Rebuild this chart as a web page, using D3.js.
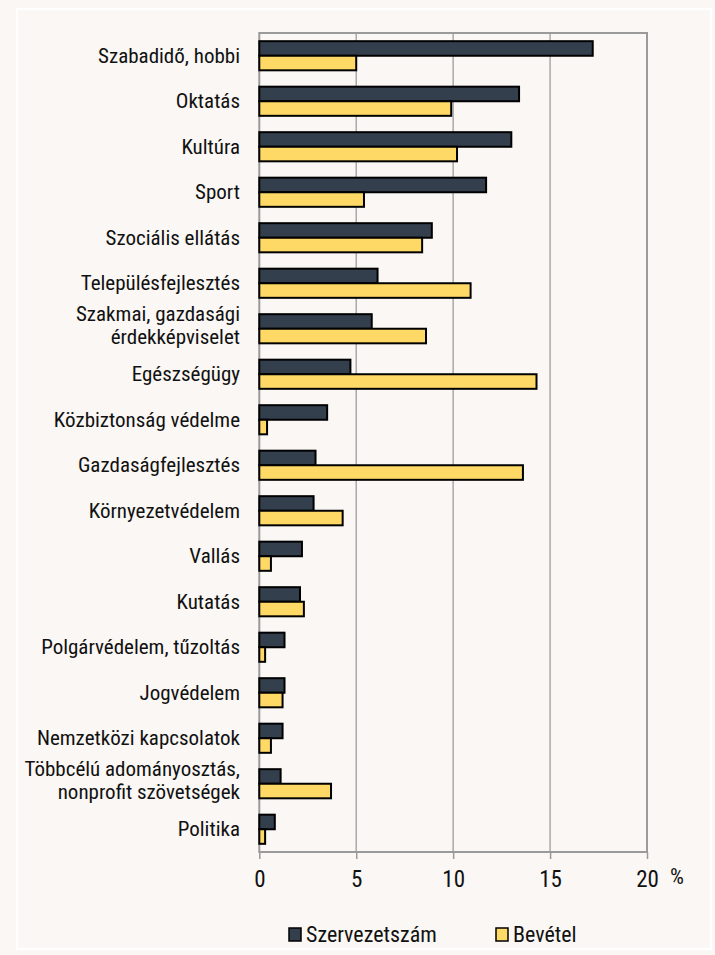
<!DOCTYPE html>
<html>
<head>
<meta charset="utf-8">
<script src="https://cdn.jsdelivr.net/npm/d3@7"></script>
<style>
  body { margin: 0; background: #faf7f4; }
  svg { display: block; }
  text { font-family: 'Liberation Sans Narrow', 'Arial Narrow', 'Roboto Condensed', sans-serif; fill: #111; }
</style>
</head>
<body>
<svg id="chart"></svg>
<script>
// categories top to bottom
var categories = [
    'Szabadidő, hobbi', 'Oktatás', 'Kultúra', 'Sport', 'Szociális ellátás',
    'Településfejlesztés', 'Szakmai, gazdasági\nérdekképviselet', 'Egészségügy',
    'Közbiztonság védelme', 'Gazdaságfejlesztés', 'Környezetvédelem', 'Vallás',
    'Kutatás', 'Polgárvédelem, tűzoltás', 'Jogvédelem', 'Nemzetközi kapcsolatok',
    'Többcélú adományosztás,\nnonprofit szövetségek', 'Politika'
];
var szervezetszam = [17.2, 13.4, 13.0, 11.7, 8.9, 6.1, 5.8, 4.7, 3.5, 2.9, 2.8, 2.2, 2.1, 1.3, 1.3, 1.2, 1.1, 0.8];
var bevetel = [5.0, 9.9, 10.2, 5.4, 8.4, 10.9, 8.6, 14.3, 0.4, 13.6, 4.3, 0.6, 2.3, 0.3, 1.2, 0.6, 3.7, 0.3];
var seriesNames = ['Szervezetszám', 'Bevétel'];
var seriesColors = ['#343f4e', '#ffd966'];
var xTicks = [0, 5, 10, 15, 20];

var width = 715, height = 955;
var plot = {left: 259.3, right: 647, top: 33, bottom: 852};

var svg = d3.select('#chart')
    .attr('width', width)
    .attr('height', height);

//faint outer frame
svg.append('rect')
    .attr('x', 17).attr('y', 9)
    .attr('width', 694).attr('height', 940)
    .attr('fill', 'none')
    .attr('stroke', '#ffffff')
    .attr('stroke-width', 2);

var x = d3.scaleLinear().domain([0, 20]).range([plot.left, plot.right]);
var y = d3.scaleBand()
    .domain(categories)
    .range([plot.top, plot.bottom])
    .paddingInner(0.36)
    .paddingOuter(0.18);
var ySub = d3.scaleBand()
    .domain(seriesNames)
    .range([0, y.bandwidth()]);

//grid lines
svg.append('g')
    .attr('class', 'grid')
    .selectAll('line')
    .data(xTicks.slice(1, -1))
    .join('line')
    .attr('x1', d => x(d)).attr('x2', d => x(d))
    .attr('y1', plot.top).attr('y2', plot.bottom)
    .attr('stroke', '#a9a9a9')
    .attr('stroke-width', 1.5);

//plot border
svg.append('rect')
    .attr('x', plot.left).attr('y', plot.top)
    .attr('width', plot.right - plot.left)
    .attr('height', plot.bottom - plot.top)
    .attr('fill', 'none')
    .attr('stroke', '#9a9a9a')
    .attr('stroke-width', 2);

//x axis
var xAxis = svg.append('g')
    .attr('class', 'xaxis')
    .attr('transform', 'translate(0,' + plot.bottom + ')')
    .call(d3.axisBottom(x).tickValues(xTicks).tickSize(7).tickPadding(12));
xAxis.select('.domain').remove();
xAxis.selectAll('.tick line').attr('stroke', '#9a9a9a').attr('stroke-width', 1.5);
xAxis.selectAll('.tick text')
    .attr('font-size', '23px')
    .attr('font-family', null)
    .attr('fill', '#111');

svg.append('text')
    .attr('x', 677).attr('y', 884)
    .attr('text-anchor', 'middle')
    .attr('font-size', '22px')
    .text('%');

//category labels
var labels = svg.append('g')
    .attr('class', 'labels')
    .selectAll('text')
    .data(categories)
    .join('text')
    .attr('text-anchor', 'end')
    .attr('font-size', '21px')
    .attr('x', 240);
labels.each(function(d) {
    var lines = d.split('\n');
    var cy = y(d) + y.bandwidth() / 2;
    var t = d3.select(this);
    lines.forEach(function(line, i) {
        t.append('tspan')
            .attr('x', 240)
            .attr('y', cy + 7 + (i - (lines.length - 1) / 2) * 23.5 - (lines.length - 1) * 3.5)
            .text(line);
    });
});

//bars
var rows = categories.map((c, i) => ({cat: c, values: [szervezetszam[i], bevetel[i]]}));
var groups = svg.append('g')
    .attr('class', 'bars')
    .selectAll('g')
    .data(rows)
    .join('g')
    .attr('transform', d => 'translate(0,' + y(d.cat) + ')');
groups.selectAll('rect')
    .data(d => d.values.map((v, j) => ({series: seriesNames[j], value: v, j: j})))
    .join('rect')
    .attr('x', x(0))
    .attr('y', d => ySub(d.series))
    .attr('width', d => x(d.value) - x(0))
    .attr('height', ySub.bandwidth())
    .attr('fill', d => seriesColors[d.j])
    .attr('stroke', '#000')
    .attr('stroke-width', 2);

//legend
var legendX = [289, 496];
var legend = svg.append('g')
    .attr('class', 'legend')
    .selectAll('g')
    .data(seriesNames)
    .join('g')
    .attr('transform', (d, i) => 'translate(' + legendX[i] + ',928)');
legend.append('rect')
    .attr('width', 12).attr('height', 13)
    .attr('fill', (d, i) => seriesColors[i])
    .attr('stroke', '#000')
    .attr('stroke-width', 1.5);
legend.append('text')
    .attr('x', 17).attr('y', 14)
    .attr('font-size', '22px')
    .text(d => d);
</script>
</body>
</html>
